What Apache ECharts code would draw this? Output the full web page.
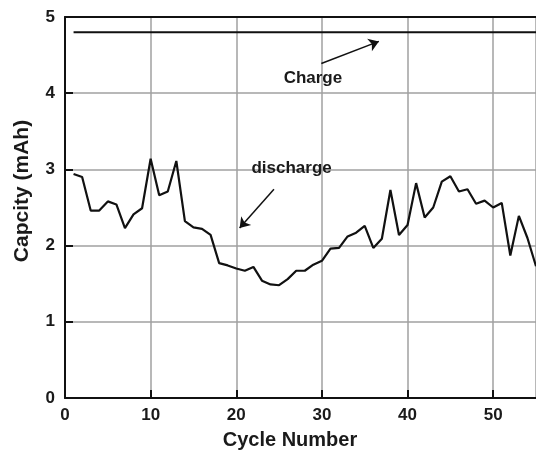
<!DOCTYPE html>
<html>
<head>
<meta charset="utf-8">
<script src="https://cdn.jsdelivr.net/npm/echarts@6/dist/echarts.min.js"></script>
<style>
html,body{margin:0;padding:0;background:#fff;}
#chart{width:536px;height:451px;}
</style>
</head>
<body>
<div id="chart"></div>
<script>
var cycles = [1,2,3,4,5,6,7,8,9,10,11,12,13,14,15,16,17,18,19,20,21,22,23,24,25,26,27,28,29,30,31,32,33,34,35,36,37,38,39,40,41,42,43,44,45,46,47,48,49,50,51,52,53,54,55];
var dischargeCapacity = [2.94,2.90,2.46,2.46,2.58,2.54,2.23,2.41,2.49,3.14,2.66,2.71,3.11,2.32,2.24,2.22,2.14,1.77,1.74,1.70,1.67,1.72,1.54,1.49,1.48,1.56,1.67,1.67,1.75,1.80,1.96,1.97,2.12,2.17,2.26,1.97,2.09,2.73,2.14,2.27,2.82,2.37,2.50,2.84,2.91,2.71,2.74,2.55,2.59,2.50,2.56,1.87,2.39,2.10,1.73];
var chargeCapacity = [4.8,4.8,4.8,4.8,4.8,4.8,4.8,4.8,4.8,4.8,4.8,4.8,4.8,4.8,4.8,4.8,4.8,4.8,4.8,4.8,4.8,4.8,4.8,4.8,4.8,4.8,4.8,4.8,4.8,4.8,4.8,4.8,4.8,4.8,4.8,4.8,4.8,4.8,4.8,4.8,4.8,4.8,4.8,4.8,4.8,4.8,4.8,4.8,4.8,4.8,4.8,4.8,4.8,4.8,4.8];
var xTicks = [0,10,20,30,40,50];
var yTicks = [0,1,2,3,4,5];
var annotationTexts = ['Charge','discharge'];
var annotationAt = [[28.95,4.19],[26.46,3.02]];
var arrowFrom = [[29.93,4.39],[24.4,2.74]];
var arrowTo = [[36.65,4.68],[20.39,2.23]];

function pairs(xs, ys){ var out=[]; for(var i=0;i<xs.length;i++){ out.push([xs[i], ys[i]]); } return out; }

var textColor = '#1a1a1a';
var font = '"Liberation Sans", Arial, sans-serif';

var chart = echarts.init(document.getElementById('chart'), null, {renderer:'canvas'});
var option = {
  animation: false,
  backgroundColor: '#fff',
  grid: {left: 65, top: 17, right: 0, bottom: 53},
  xAxis: [{
    type: 'value', min: 0, max: 55, interval: 10,
    axisLine: {show: true, lineStyle: {color: '#111', width: 2}},
    axisTick: {show: true, inside: true, length: 8, lineStyle: {color: '#111', width: 2}},
    axisLabel: {show: true, margin: 9, color: textColor, fontSize: 17, fontWeight: 'bold', fontFamily: font, showMaxLabel: false,
      formatter: function(v){ return xTicks.indexOf(v) >= 0 ? String(v) : ''; }},
    splitLine: {show: true, lineStyle: {color: '#a0a0a0', width: 1.5}}
  }, {
    type: 'value', position: 'top', min: 0, max: 55,
    axisLine: {show: true, lineStyle: {color: '#111', width: 2}},
    axisTick: {show: false}, axisLabel: {show: false}, splitLine: {show: false}
  }],
  yAxis: {
    type: 'value', min: 0, max: 5, interval: 1,
    axisLine: {show: true, lineStyle: {color: '#111', width: 2}},
    axisTick: {show: true, inside: true, length: 8, lineStyle: {color: '#111', width: 2}},
    axisLabel: {show: true, margin: 10, color: textColor, fontSize: 17, fontWeight: 'bold', fontFamily: font,
      formatter: function(v){ return yTicks.indexOf(v) >= 0 ? String(v) : ''; }},
    splitLine: {show: true, lineStyle: {color: '#a0a0a0', width: 1.5}}
  },
  series: [{
    name: 'Charge', type: 'line', xAxisIndex: 0, data: pairs(cycles, chargeCapacity),
    symbol: 'none', lineStyle: {color: '#111', width: 2}, z: 5
  }, {
    name: 'discharge', type: 'line', xAxisIndex: 0, data: pairs(cycles, dischargeCapacity),
    symbol: 'none', lineStyle: {color: '#111', width: 2.2}, z: 5,
    markLine: {
      silent: true, symbol: ['none', 'arrow'], symbolSize: 10,
      label: {show: false},
      itemStyle: {color: '#111'},
      lineStyle: {color: '#111', width: 1.5, type: 'solid'},
      emphasis: {disabled: true},
      data: arrowFrom.map(function(f, i){ return [{coord: f}, {coord: arrowTo[i]}]; })
    }
  }]
};
chart.setOption(option);

var graphics = [];
annotationTexts.forEach(function(t, i){
  var p = chart.convertToPixel({xAxisIndex: 0, yAxisIndex: 0}, annotationAt[i]);
  graphics.push({type: 'text', x: p[0], y: p[1], style: {text: t, fill: textColor, font: 'bold 17px ' + font, textAlign: 'center', textVerticalAlign: 'middle'}});
});
graphics.push({type: 'text', x: 290, y: 440, style: {text: 'Cycle Number', fill: textColor, font: 'bold 20px ' + font, textAlign: 'center', textVerticalAlign: 'middle'}});
graphics.push({type: 'text', x: 22, y: 191, rotation: Math.PI/2, style: {text: 'Capcity (mAh)', fill: textColor, font: 'bold 21px ' + font, textAlign: 'center', textVerticalAlign: 'middle'}});
chart.setOption({graphic: graphics});
</script>
</body>
</html>
